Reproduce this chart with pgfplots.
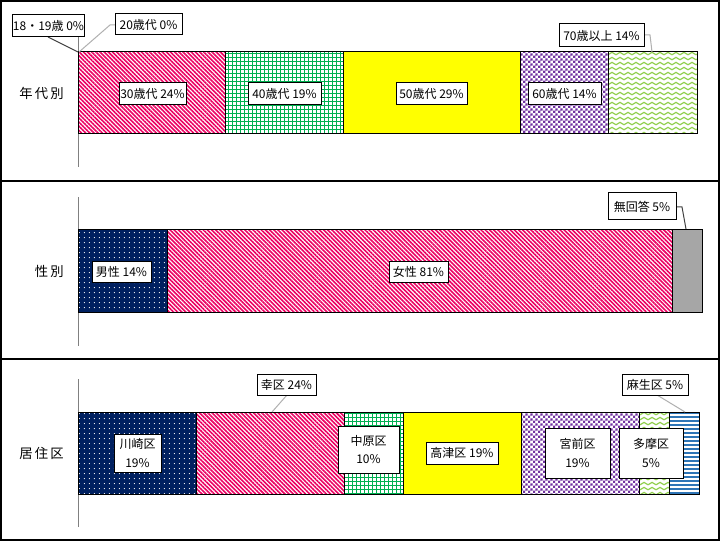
\documentclass[border=0pt]{standalone}
\usepackage{pgfplots}
\pgfplotsset{compat=1.18}
\usepackage{fontspec}
\setmainfont{Noto Sans CJK JP}
\usetikzlibrary{patterns,patterns.meta}

\definecolor{stripe}{HTML}{EC0062}
\definecolor{gridg}{HTML}{00B050}
\definecolor{yel}{HTML}{FFFF00}
\definecolor{purp}{HTML}{7030A0}
\definecolor{lgreen}{HTML}{92D050}
\definecolor{navy}{HTML}{002060}
\definecolor{nogray}{HTML}{A6A6A6}
\definecolor{blu}{HTML}{2E75B6}
\definecolor{leaddark}{HTML}{404040}
\definecolor{leadlight}{HTML}{B0B0B0}

\pgfdeclarepatternformonly{zigzag}{\pgfqpoint{-1pt}{-1pt}}{\pgfqpoint{7pt}{5pt}}{\pgfqpoint{6pt}{3.75pt}}{%
  \pgfsetlinewidth{0.9pt}%
  \pgfpathmoveto{\pgfqpoint{0pt}{0.9pt}}%
  \pgfpathlineto{\pgfqpoint{3pt}{2.7pt}}%
  \pgfpathlineto{\pgfqpoint{6pt}{0.9pt}}%
  \pgfusepath{stroke}}

\pgfdeclarepatternformonly{confetti}{\pgfqpoint{0pt}{0pt}}{\pgfqpoint{3.6pt}{3.6pt}}{\pgfqpoint{3.6pt}{3.6pt}}{%
  \pgfpathrectangle{\pgfqpoint{0pt}{0pt}}{\pgfqpoint{1.75pt}{1.75pt}}%
  \pgfpathrectangle{\pgfqpoint{1.8pt}{1.8pt}}{\pgfqpoint{1.75pt}{1.75pt}}%
  \pgfusepath{fill}}

\tikzset{
  bb/.style={draw=black, line width=0.75pt},
  sStripe/.style={bb, preaction={fill=white}, pattern={Lines[angle=-45,distance=2.2pt,line width=1.2pt]}, pattern color=stripe},
  sGrid/.style={bb, preaction={fill=white}, pattern={Hatch[angle=0,distance=3pt,line width=0.65pt]}, pattern color=gridg},
  sYel/.style={bb, fill=yel},
  sConf/.style={bb, preaction={fill=white}, pattern=confetti, pattern color=purp},
  sZig/.style={bb, preaction={fill=white}, pattern=zigzag, pattern color=lgreen},
  sNavy/.style={bb, preaction={fill=navy}, pattern={Dots[distance=4pt,radius=0.45pt]}, pattern color=white},
  sGray/.style={bb, fill=nogray},
  sBlue/.style={bb, preaction={fill=white}, pattern={Lines[angle=0,distance=3pt,line width=1.3pt]}, pattern color=blu},
  lab/.style={draw=black, fill=white, line width=0.75pt, inner sep=0pt, align=center, font=\fontsize{9}{14}\selectfont},
  ttl/.style={anchor=east, inner sep=0pt, font=\fontsize{10}{12}\selectfont},
}

\pgfplotsset{
  panel/.style={anchor=south west, scale only axis, xmin=0, xmax=100,
    xbar stacked, enlargelimits=false, axis x line=none, axis y line=left,
    axis line style={-, gray, line width=0.75pt}, ytick=\empty, xtick=\empty, clip=false},
}

\newcommand{\lab}[5]{\node[lab, minimum width=#3*0.75pt, minimum height=#4*0.75pt] at (#1,#2) {#5};}

\begin{document}
\begin{tikzpicture}[x=0.75pt,y=-0.75pt]
\fill[white] (0,0) rectangle (720,541);
\path[use as bounding box] (0,0) rectangle (720,541);

% ---------- panel 1 : age ----------
\begin{axis}[panel, at={(58.5pt,-125.25pt)}, width=464.25pt, height=114pt, ymin=-76, ymax=76, bar width=82]
\addplot[bb, fill=white] coordinates {(0,-2)};      % 18-19
\addplot[bb, fill=white] coordinates {(0,-2)};      % 20s
\addplot[sStripe] coordinates {(23.81,-2)};  % 30s
\addplot[sGrid]   coordinates {(19.05,-2)};  % 40s
\addplot[sYel]    coordinates {(28.57,-2)};  % 50s
\addplot[sConf]   coordinates {(14.29,-2)};  % 60s
\addplot[sZig]    coordinates {(14.28,-2)};  % 70+
\end{axis}

% ---------- panel 2 : gender ----------
\begin{axis}[panel, at={(58.5pt,-259.5pt)}, width=468pt, height=111.75pt, ymin=-74.5, ymax=74.5, bar width=83]
\addplot[sNavy]   coordinates {(14.29,1)};   % male
\addplot[sStripe] coordinates {(80.95,1)};   % female
\addplot[sGray]   coordinates {(4.76,1)};    % no answer
\end{axis}

% ---------- panel 3 : ward ----------
\begin{axis}[panel, at={(58.5pt,-395.25pt)}, width=465.75pt, height=111pt, ymin=-74, ymax=74, bar width=82]
\addplot[sNavy]   coordinates {(19.05,0)};   % Kawasaki
\addplot[sStripe] coordinates {(23.81,0)};   % Saiwai
\addplot[sGrid]   coordinates {(9.52,0)};    % Nakahara
\addplot[sYel]    coordinates {(19.05,0)};   % Takatsu
\addplot[sConf]   coordinates {(19.05,0)};   % Miyamae
\addplot[sZig]    coordinates {(4.76,0)};    % Tama
\addplot[sBlue]   coordinates {(4.76,0)};    % Asao
\end{axis}

% frame
\draw[line width=1.1pt] (1,1) rectangle (719,540);
\draw[line width=1.1pt] (1,181) -- (719,181);
\draw[line width=1.1pt] (1,359) -- (719,359);

% panel titles
\node[ttl] at (64,93) {年\,代\,別};
\node[ttl] at (64,271) {性\,別};
\node[ttl] at (64,453) {居\,住\,区};

% leaders
\draw[leaddark, line width=0.75pt] (48,37) -- (78,52);
\draw[leadlight, line width=0.75pt] (115,25) -- (110,25) -- (79,52);
\draw[leadlight, line width=0.75pt] (644,35) -- (650,35) -- (652,52);
\draw[leaddark, line width=0.75pt] (676,207) -- (682,207) -- (686,229);
\draw[leadlight, line width=0.75pt] (287,395) -- (272,412);
\draw[leadlight, line width=0.75pt] (657,395) -- (685,412);

% labels panel 1
\lab{48.5}{26}{71}{22}{18・19歳 0\%}
\lab{148.5}{24.5}{67}{21}{20歳代 0\%}
\lab{152.5}{93.5}{67}{22}{30歳代 24\%}
\lab{284.5}{93.5}{73}{22}{40歳代 19\%}
\lab{431.5}{93.5}{71}{22}{50歳代 29\%}
\lab{564.5}{93.5}{73}{22}{60歳代 14\%}
\lab{601.5}{35.5}{85}{23}{70歳以上 14\%}
% labels panel 2
\lab{121.5}{272}{59}{21}{男性 14\%}
\lab{418.5}{272}{59}{21}{女性 81\%}
\lab{642}{206.5}{68}{27}{無回答 5\%}
% labels panel 3
\lab{137.5}{453}{47}{38}{川崎区\\19\%}
\lab{286.5}{384.5}{59}{21}{幸区 24\%}
\lab{368.5}{449.5}{61}{47}{中原区\\10\%}
\lab{462}{453}{72}{22}{高津区 19\%}
\lab{577.5}{453}{65}{50}{宮前区\\19\%}
\lab{651}{453}{64}{50}{多摩区\\5\%}
\lab{655}{384.5}{66}{21}{麻生区 5\%}
\end{tikzpicture}
\end{document}
